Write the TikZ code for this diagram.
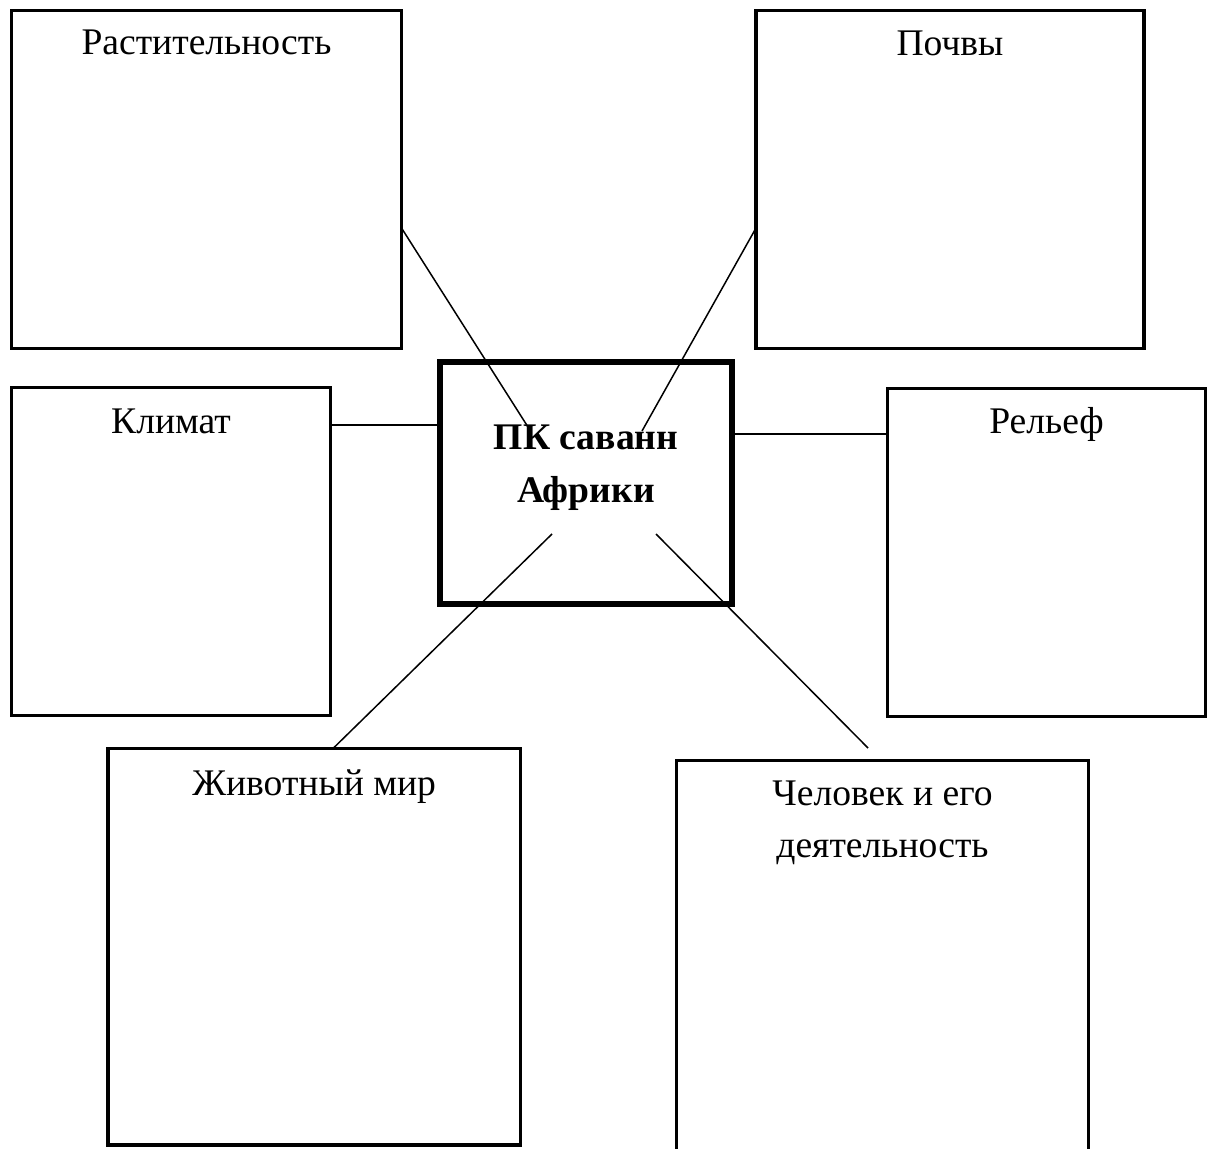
\documentclass[tikz,border=0pt]{standalone}
\usepackage{fontspec}
\setmainfont{Liberation Serif}
\begin{document}
\begin{tikzpicture}[x=0.5pt,y=-0.5pt,
  box/.style={draw=black,line width=1.7pt,rectangle,inner sep=0pt,outer sep=0pt,fill=none},
  mainbox/.style={draw=black,line width=3pt,rectangle,inner sep=0pt,outer sep=0pt},
  lbl/.style={inner sep=0pt,outer sep=0pt,font=\fontsize{18.8}{26}\selectfont,anchor=base},
  conn/.style={draw=black,line width=0.75pt}]
\useasboundingbox (0,0) rectangle (1208,1149);
\clip (0,0) rectangle (1208,1149);
\fill[white] (0,0) rectangle (1208,1149);
% boxes
\node[box,minimum width=195pt,minimum height=169pt] (rast) at (206.5,179.5) {};
\node[box,minimum width=194pt,minimum height=169pt] (poch) at (950,179.5) {};
\node[box,minimum width=159.5pt,minimum height=164pt] (klim) at (171,551.5) {};
\node[box,minimum width=159pt,minimum height=164pt] (rel) at (1046.5,552.5) {};
\node[mainbox,minimum width=146pt,minimum height=121pt] (pk) at (586,483) {};
\node[box,minimum width=206.25pt,minimum height=198.25pt] (zhiv) at (314.25,946.75) {};
\node[box,minimum width=206pt,minimum height=219.75pt] (chel) at (882.5,980.25) {};
% labels
\node[lbl] (rastT) at (206.5,55) {Растительность};
\node[lbl] (pochT) at (950,56) {Почвы};
\node[lbl] (klimT) at (171,433) {Климат};
\node[lbl] (relT) at (1046.5,434) {Рельеф};
\node[lbl,font=\fontsize{18.8}{26}\selectfont\bfseries] (pkT1) at (586,450) {ПК саванн};
\node[lbl,font=\fontsize{18.8}{26}\selectfont\bfseries] (pkT2) at (586,502) {Африки};
\node[lbl] (zhivT) at (314.25,795) {Животный мир};
\node[lbl] (chelT1) at (882.5,805) {Человек и его};
\node[lbl] (chelT2) at (882.5,857) {деятельность};
% connector end points
\coordinate (a1) at (rast.east |- 0,228);
\coordinate (a2) at (528,427);
\coordinate (b1) at (poch.west |- 0,228);
\coordinate (b2) at (642,431);
\coordinate (c1) at (klim.east |- 0,425);
\coordinate (c2) at (pk.west |- 0,425);
\coordinate (d1) at (pk.east |- 0,434);
\coordinate (d2) at (rel.west |- 0,434);
\coordinate (e1) at (333,748.5);
\coordinate (e2) at (552,534);
\coordinate (f1) at (656,534);
\coordinate (f2) at (868,748);
% connectors
\draw[conn] (a1) -- (a2);
\draw[conn] (b1) -- (b2);
\draw[conn] (c1) -- (c2);
\draw[conn] (d1) -- (d2);
\draw[conn] (e1) -- (e2);
\draw[conn] (f1) -- (f2);
\end{tikzpicture}
\end{document}
